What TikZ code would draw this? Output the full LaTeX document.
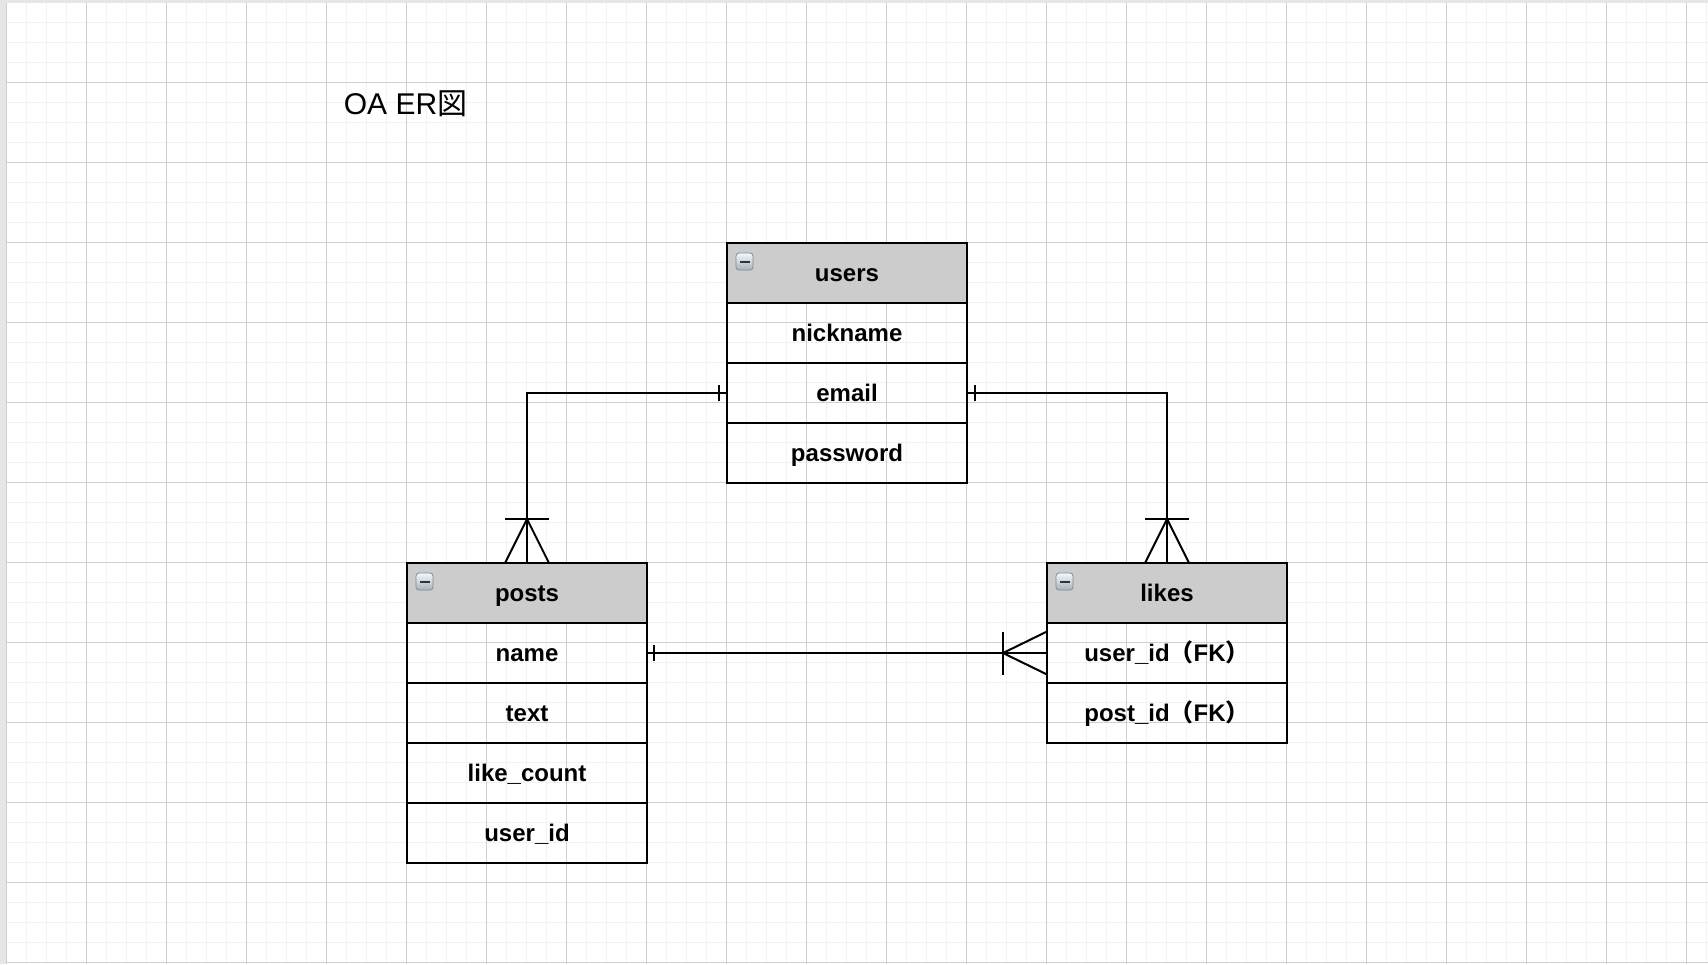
\documentclass[tikz,border=0pt]{standalone}
\usepackage{fontspec}
\setmainfont{Liberation Sans}
\newfontfamily\cjk{Noto Sans CJK JP}
\usetikzlibrary{calc}
\definecolor{gmin}{HTML}{F2F2F2}
\definecolor{gmaj}{HTML}{D0D0D0}
\definecolor{hdr}{HTML}{CCCCCC}
\definecolor{edgegray}{HTML}{E6E6E6}
\definecolor{icontop}{HTML}{F4F7FA}
\definecolor{iconbot}{HTML}{A8B3BE}
\definecolor{iconedge}{HTML}{7F8C98}
\begin{document}
\begin{tikzpicture}[x=0.5pt,y=-0.5pt,
  tbl/.style={draw, line width=1pt, minimum width=120pt, minimum height=30pt,
    inner sep=0pt, outer sep=0pt, anchor=north west,
    text height=10.25pt, text depth=1.75pt,
    font=\bfseries\fontsize{12pt}{14pt}\selectfont},
  hdrbox/.style={tbl, fill=hdr},
  conn/.style={line width=1pt, black},
  minorline/.style={gmin, line width=0.75pt},
  majorline/.style={gmaj, line width=0.5pt},
]
\useasboundingbox (0,0) rectangle (1708,964);
\fill[white] (0,0) rectangle (1708,964);
% grid
\foreach \i in {0,...,85} \draw[minorline] ({6.7+20*\i},3) -- ({6.7+20*\i},964);
\foreach \j in {0,...,48} \draw[minorline] (7,{2.7+20*\j}) -- (1708,{2.7+20*\j});
\foreach \i in {0,...,21} \draw[majorline] ({6.7+80*\i},3) -- ({6.7+80*\i},964);
\foreach \j in {0,...,12} \draw[majorline] (7,{2.7+80*\j}) -- (1708,{2.7+80*\j});
% page edges
\fill[edgegray] (0,0) rectangle (6,964);
\fill[edgegray] (0,0) rectangle (1708,2.5);

% title
\node[anchor=base west, inner sep=0pt, font=\fontsize{15pt}{18pt}\selectfont] (title) at (343.5,114.5) {OA ER{\cjk 図}};

% users
\node[hdrbox] (users-h) at (727,243) {users};
\node[tbl] (users-n) at (727,303) {nickname};
\node[tbl] (users-e) at (727,363) {email};
\node[tbl] (users-p) at (727,423) {password};
% posts
\node[hdrbox] (posts-h) at (407,563) {posts};
\node[tbl] (posts-n) at (407,623) {name};
\node[tbl] (posts-t) at (407,683) {text};
\node[tbl] (posts-l) at (407,743) {like\_count};
\node[tbl] (posts-u) at (407,803) {user\_id};
% likes
\node[hdrbox] (likes-h) at (1047,563) {likes};
\node[tbl] (likes-u) at (1047,623) {user\_id{\cjk （}FK{\cjk ）}};
\node[tbl] (likes-p) at (1047,683) {post\_id{\cjk （}FK{\cjk ）}};

% collapse icons
\foreach \n in {users-h, posts-h, likes-h} {
  \shadedraw[top color=icontop, bottom color=iconbot, draw=iconedge, line width=0.4pt, rounded corners=1.5pt]
    ($(\n.north west)+(9,10)$) rectangle ($(\n.north west)+(26,27)$);
  \fill[black!80] ($(\n.north west)+(12.5,17.5)$) rectangle ($(\n.north west)+(22.5,20)$);
}

% connectors
\draw[conn] (users-e.west) -| (posts-h.north);
\draw[conn] (users-e.east) -| (likes-h.north);
\draw[conn] (posts-n.east) -- (likes-u.west);

% one marks
\draw[conn] ($(users-e.west)+(-8,-8)$) -- ++(0,16);
\draw[conn] ($(users-e.east)+(8,-8)$) -- ++(0,16);
\draw[conn] ($(posts-n.east)+(7,-8)$) -- ++(0,16);

% one-or-many marks
\draw[conn] ($(posts-h.north)+(-22,0)$) -- ($(posts-h.north)+(0,-44)$) -- ($(posts-h.north)+(22,0)$);
\draw[conn] ($(posts-h.north)+(-22,-44)$) -- ++(44,0);
\draw[conn] ($(likes-h.north)+(-22,0)$) -- ($(likes-h.north)+(0,-44)$) -- ($(likes-h.north)+(22,0)$);
\draw[conn] ($(likes-h.north)+(-22,-44)$) -- ++(44,0);
\draw[conn] ($(likes-u.west)+(0,-21.5)$) -- ($(likes-u.west)+(-44,0)$) -- ($(likes-u.west)+(0,21.5)$);
\draw[conn] ($(likes-u.west)+(-44,-21.5)$) -- ++(0,43);
\end{tikzpicture}
\end{document}
